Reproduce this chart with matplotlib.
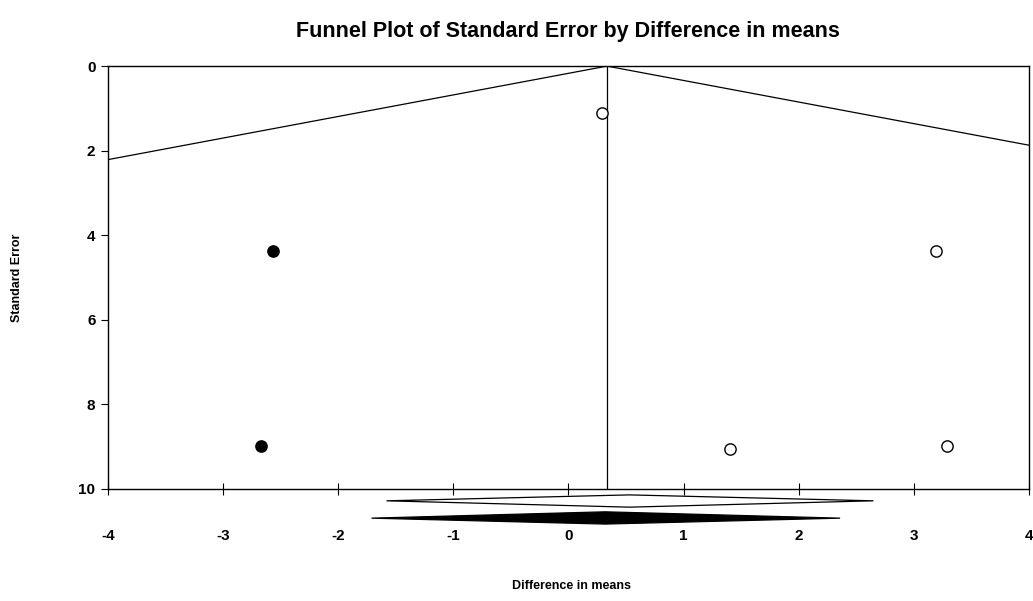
import matplotlib
matplotlib.use('Agg')
from matplotlib import pyplot as plt
from matplotlib.patches import Polygon

plt.rcParams['font.family'] = ['Liberation Sans', 'DejaVu Sans']

# observed studies (open circles)
obs_x = [0.29, 3.19, 1.40, 3.29]
obs_se = [1.11, 4.37, 9.05, 8.98]
# imputed studies (filled circles)
imp_x = [-2.57, -2.67]
imp_se = [4.37, 8.98]

# summary effect (vertical line / funnel apex)
mean_obs = 0.335
# diamonds: (low, centre, high) for observed and adjusted estimate
diam_obs = [-1.71, 0.32, 2.36]
diam_adj = [-1.58, 0.53, 2.65]

x_ticks = [-4, -3, -2, -1, 0, 1, 2, 3, 4]
y_ticks = [0, 2, 4, 6, 8, 10]

W, H = 1033, 601
fig = plt.figure(figsize=(W / 100, H / 100), dpi=100)
ax = fig.add_axes([0.1045, 0.1864, 0.8915, 0.7036])

ax.set_xlim(-4, 4)
ax.set_ylim(10, 0)

# funnel
ax.plot([mean_obs - 1.96 * 10, mean_obs, mean_obs + 1.96 * 10], [10, 0, 10],
        color='black', lw=0.9)
ax.plot([mean_obs, mean_obs], [0, 10], color='black', lw=0.9)

ax.scatter(obs_x, obs_se, s=66, facecolors='white', edgecolors='black',
           linewidths=1.0, zorder=3)
ax.scatter(imp_x, imp_se, s=66, facecolors='black', edgecolors='black',
           linewidths=1.0, zorder=3)

# diamonds below the axis
lo, c, hi = diam_adj
ax.add_patch(Polygon([(lo, 10.28), (c, 10.14), (hi, 10.28), (c, 10.43)],
                     closed=True, facecolor='white', edgecolor='black',
                     lw=0.9, clip_on=False))
lo, c, hi = diam_obs
ax.add_patch(Polygon([(lo, 10.69), (c, 10.54), (hi, 10.69), (c, 10.83)],
                     closed=True, facecolor='black', edgecolor='black',
                     lw=0.9, clip_on=False))

ax.set_xticks(x_ticks)
ax.set_yticks(y_ticks)
ax.set_xticklabels([str(t) for t in x_ticks], fontsize=11, fontweight='bold')
ax.set_yticklabels([str(t) for t in y_ticks], fontsize=11, fontweight='bold')
ax.tick_params(axis='x', direction='inout', length=8, width=0.8, pad=25)
ax.tick_params(axis='y', direction='out', length=5, width=0.8, pad=4)

for sp in ax.spines.values():
    sp.set_linewidth(1.0)

fig.text(568 / W, 1 - 32 / H, 'Funnel Plot of Standard Error by Difference in means',
         fontsize=15.5, fontweight='bold', ha='center', va='center')
fig.text(572 / W, 1 - 586 / H, 'Difference in means',
         fontsize=9, fontweight='bold', ha='center', va='center')
fig.text(17 / W, 1 - 278 / H, 'Standard Error', rotation=90,
         fontsize=9, fontweight='bold', ha='center', va='center')

fig.savefig('out.png', dpi=100)
